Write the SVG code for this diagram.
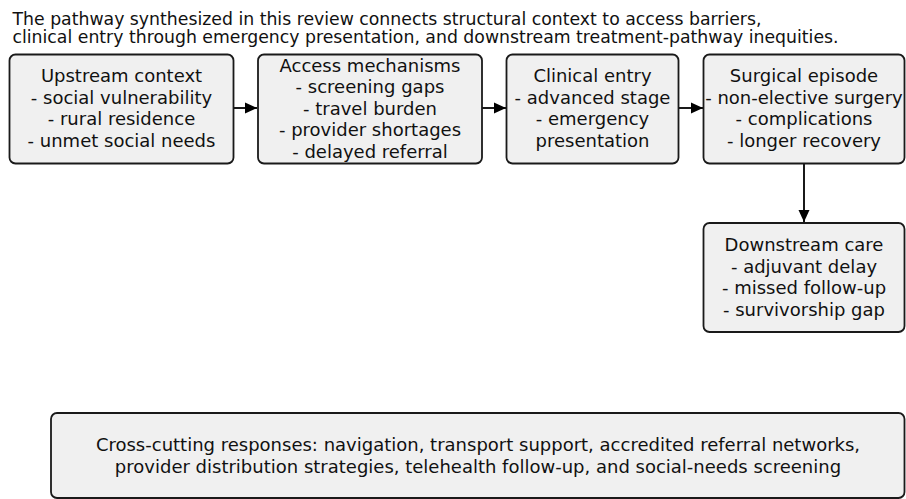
<svg xmlns="http://www.w3.org/2000/svg" width="906" height="499" viewBox="0 0 906 499">
  <defs>
    <style>
      .box { fill: #f0f0f0; stroke: #1a1a1a; stroke-width: 1.8; }
      .lbl { font-family: "DejaVu Sans", Verdana, sans-serif; font-size: 18px; fill: #111; text-anchor: middle; }
      .title { font-family: "DejaVu Sans", Verdana, sans-serif; font-size: 17.3px; fill: #111; }
      .edge { stroke: #000; stroke-width: 1.8; fill: none; marker-end: url(#head); }
    </style>
    <marker id="head" viewBox="0 0 12 12" refX="12" refY="6" markerWidth="12" markerHeight="12" markerUnits="userSpaceOnUse" orient="auto">
      <path d="M0,0.5 L12,6 L0,11.5 Z" fill="#000"/>
    </marker>
  </defs>

  <rect width="906" height="499" fill="#fff"/>

  <text class="title" x="12.5" y="25">The pathway synthesized in this review connects structural context to access barriers,</text>
  <text class="title" x="12.5" y="43">clinical entry through emergency presentation, and downstream treatment-pathway inequities.</text>

  <g id="connectors">
    <line class="edge" x1="233" y1="108" x2="257" y2="108"/>
    <line class="edge" x1="482" y1="108" x2="506" y2="108"/>
    <line class="edge" x1="678" y1="108" x2="703" y2="108"/>
    <line class="edge" x1="804" y1="163" x2="804" y2="222"/>
  </g>

  <g id="upstream">
    <rect class="box" x="9.5" y="54.5" width="224" height="109" rx="6"/>
    <text class="lbl" x="121.5" y="82">Upstream context</text>
    <text class="lbl" x="121.5" y="103.5">- social vulnerability</text>
    <text class="lbl" x="121.5" y="125">- rural residence</text>
    <text class="lbl" x="121.5" y="146.5">- unmet social needs</text>
  </g>

  <g id="access">
    <rect class="box" x="258" y="54.5" width="224" height="109" rx="6"/>
    <text class="lbl" x="370" y="71.5">Access mechanisms</text>
    <text class="lbl" x="370" y="93">- screening gaps</text>
    <text class="lbl" x="370" y="114.5">- travel burden</text>
    <text class="lbl" x="370" y="136">- provider shortages</text>
    <text class="lbl" x="370" y="157.5">- delayed referral</text>
  </g>

  <g id="clinical">
    <rect class="box" x="506.5" y="54.5" width="172" height="109" rx="6"/>
    <text class="lbl" x="592.5" y="82">Clinical entry</text>
    <text class="lbl" x="592.5" y="103.5">- advanced stage</text>
    <text class="lbl" x="592.5" y="125">- emergency</text>
    <text class="lbl" x="592.5" y="146.5">presentation</text>
  </g>

  <g id="surgical">
    <rect class="box" x="703.5" y="54.5" width="201" height="109" rx="6"/>
    <text class="lbl" x="804" y="82">Surgical episode</text>
    <text class="lbl" x="804" y="103.5">- non-elective surgery</text>
    <text class="lbl" x="804" y="125">- complications</text>
    <text class="lbl" x="804" y="146.5">- longer recovery</text>
  </g>

  <g id="downstream">
    <rect class="box" x="703.5" y="223" width="201" height="109" rx="6"/>
    <text class="lbl" x="804" y="251">Downstream care</text>
    <text class="lbl" x="804" y="272.5">- adjuvant delay</text>
    <text class="lbl" x="804" y="294">- missed follow-up</text>
    <text class="lbl" x="804" y="315.5">- survivorship gap</text>
  </g>

  <g id="responses">
    <rect class="box" x="51" y="413" width="853.5" height="85" rx="6"/>
    <text class="lbl" x="478" y="451" font-size="18.1">Cross-cutting responses: navigation, transport support, accredited referral networks,</text>
    <text class="lbl" x="478" y="472.5" font-size="18.1">provider distribution strategies, telehealth follow-up, and social-needs screening</text>
  </g>
</svg>
